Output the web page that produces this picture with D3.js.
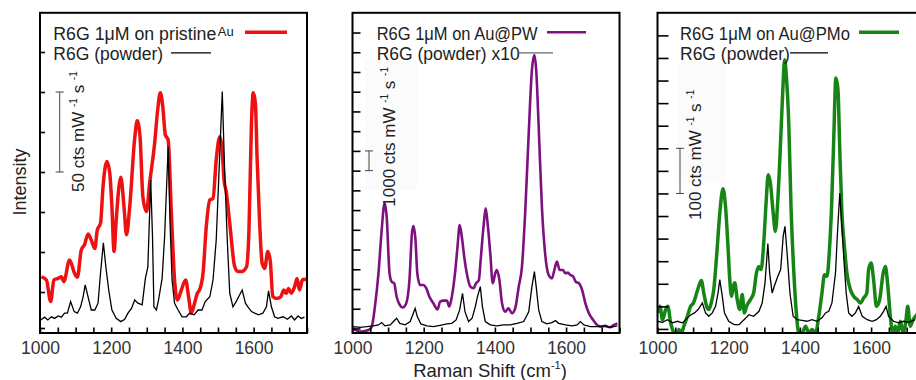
<!DOCTYPE html>
<html>
<head>
<meta charset="utf-8">
<script src="https://cdn.jsdelivr.net/npm/d3@7"></script>
<style>
body { margin: 0; background: #fff; }
text { font-family: "Liberation Sans", Arial, sans-serif; }
</style>
</head>
<body>
<div id="chartArea"></div>
<script>
// shared x axis
var xDomain = [1000, 1750];
var xLabels = [1000, 1200, 1400, 1600];
var xMinor = d3.range(1000, 1751, 50);

// left panel : pristine Au (red) + powder
var au_pristine = [[1004,1.38],[1018,1.30],[1030,0.76],[1039,1.30],[1051,1.34],[1060,1.38],[1067,1.26],[1083,1.80],[1097,1.47],[1105,1.37],[1116,2.05],[1125,2.18],[1135,2.45],[1144,2.30],[1154,2.09],[1161,2.55],[1170,2.72],[1177,3.63],[1188,4.26],[1196,3.97],[1202,3.13],[1208,2.01],[1214,2.80],[1227,3.87],[1236,3.13],[1243,2.43],[1252,3.13],[1266,4.84],[1273,5.28],[1281,4.88],[1289,3.38],[1299,3.01],[1308,3.72],[1322,4.72],[1331,5.59],[1338,5.98],[1345,5.63],[1352,4.93],[1360,4.80],[1369,2.97],[1378,1.30],[1386,0.80],[1397,1.05],[1409,1.30],[1418,0.84],[1425,0.47],[1433,0.68],[1442,0.97],[1448,1.05],[1458,1.47],[1467,2.63],[1477,3.30],[1486,3.34],[1495,4.30],[1505,4.88],[1511,4.63],[1517,3.80],[1523,3.51],[1533,2.72],[1547,1.63],[1556,1.51],[1567,1.51],[1580,1.63],[1587,2.55],[1594,5.22],[1599,5.98],[1605,5.72],[1610,4.30],[1617,2.72],[1624,1.72],[1631,1.59],[1640,2.01],[1647,1.76],[1654,0.88],[1664,0.84],[1676,0.88],[1685,1.05],[1692,0.97],[1698,1.09],[1706,0.97],[1715,1.13],[1722,1.34],[1729,1.05],[1737,1.30],[1743,1.32],[1750,1.30]];
var powder_a = [[1002,0.30],[1013,0.37],[1022,0.30],[1032,0.38],[1041,0.34],[1051,0.40],[1060,0.37],[1069,0.47],[1077,0.47],[1086,0.76],[1096,0.51],[1105,0.47],[1114,0.63],[1121,0.88],[1127,1.18],[1135,0.88],[1144,0.55],[1154,0.55],[1163,0.72],[1170,1.47],[1178,2.23],[1185,1.63],[1193,1.05],[1202,0.55],[1214,0.34],[1227,0.26],[1238,0.32],[1247,0.47],[1257,0.59],[1266,0.80],[1275,0.72],[1287,0.68],[1296,1.34],[1303,1.63],[1311,3.80],[1316,2.38],[1320,0.63],[1327,0.55],[1333,0.80],[1343,1.34],[1350,2.38],[1360,4.63],[1365,2.80],[1371,1.30],[1378,0.72],[1388,0.55],[1399,0.38],[1411,0.38],[1420,0.47],[1433,0.43],[1444,0.55],[1455,0.55],[1464,0.76],[1477,0.88],[1486,1.30],[1495,2.30],[1505,4.47],[1512,6.01],[1518,4.22],[1526,2.30],[1533,0.97],[1542,0.63],[1551,0.76],[1561,0.93],[1568,1.05],[1577,0.72],[1584,0.63],[1594,0.51],[1603,0.47],[1614,0.43],[1626,0.47],[1636,0.63],[1642,1.03],[1650,0.63],[1659,0.38],[1668,0.34],[1683,0.38],[1695,0.32],[1706,0.40],[1715,0.30],[1725,0.40],[1734,0.34],[1743,0.37]];

// middle panel : Au@PW (purple) + powder x10
var au_pw = [[1002,0.01],[1012,-0.11],[1026,-0.16],[1045,-0.08],[1054,0.09],[1063,1.11],[1073,2.80],[1082,4.99],[1090,6.34],[1096,5.67],[1104,2.80],[1110,2.37],[1117,2.29],[1124,1.61],[1133,1.19],[1141,1.06],[1151,1.28],[1160,2.46],[1167,4.82],[1171,5.19],[1177,4.48],[1182,2.80],[1190,2.20],[1199,2.20],[1207,2.04],[1216,1.61],[1227,1.28],[1239,0.97],[1246,1.36],[1256,1.41],[1265,1.41],[1272,1.11],[1279,1.61],[1288,2.80],[1295,4.15],[1301,5.24],[1307,4.65],[1315,3.47],[1321,2.80],[1331,2.12],[1340,2.04],[1347,2.29],[1355,2.46],[1360,3.47],[1368,5.16],[1374,6.09],[1379,5.41],[1387,3.81],[1394,2.29],[1401,2.80],[1405,2.96],[1412,2.54],[1420,1.28],[1429,0.85],[1438,1.02],[1448,0.77],[1457,1.02],[1467,2.12],[1476,3.13],[1485,5.84],[1495,9.89],[1504,13.10],[1511,13.86],[1516,13.10],[1523,10.23],[1532,6.17],[1541,3.81],[1551,2.71],[1560,2.54],[1567,2.96],[1574,3.39],[1582,2.96],[1591,2.96],[1598,2.80],[1605,2.83],[1612,2.71],[1620,2.63],[1627,2.37],[1636,2.29],[1645,1.95],[1654,1.28],[1664,0.77],[1676,0.43],[1687,0.18],[1698,0.09],[1710,0.13],[1723,0.06],[1734,0.18],[1744,0.26]];
var powder_b = [[1002,0.09],[1021,0.06],[1040,0.09],[1059,0.13],[1073,0.18],[1082,0.30],[1091,0.13],[1106,0.18],[1115,0.35],[1124,0.52],[1133,0.26],[1148,0.18],[1162,0.35],[1169,0.68],[1176,1.02],[1182,0.60],[1192,0.23],[1209,0.13],[1227,0.09],[1246,0.16],[1265,0.23],[1279,0.26],[1291,0.43],[1301,0.94],[1309,1.78],[1316,0.85],[1326,0.35],[1336,0.52],[1345,1.11],[1351,1.61],[1359,2.12],[1365,1.11],[1373,0.35],[1387,0.18],[1405,0.13],[1424,0.18],[1443,0.18],[1462,0.26],[1481,0.35],[1495,0.85],[1504,2.12],[1511,2.88],[1516,2.12],[1523,0.94],[1532,0.35],[1546,0.23],[1560,0.30],[1570,0.40],[1579,0.26],[1598,0.18],[1617,0.13],[1631,0.18],[1640,0.35],[1650,0.18],[1668,0.09],[1687,0.09],[1706,0.13],[1724,0.06],[1744,0.13]];

// right panel : Au@PMo (green) + powder
var au_pmo = [[1000,0.71],[1007,1.00],[1014,0.41],[1023,0.86],[1029,1.00],[1037,0.27],[1046,-0.18],[1054,-0.32],[1060,-0.03],[1067,-0.18],[1074,0.12],[1084,0.56],[1093,1.00],[1101,1.15],[1110,1.59],[1116,1.89],[1123,2.15],[1130,1.59],[1138,1.00],[1144,0.86],[1151,1.15],[1158,1.74],[1166,3.22],[1175,5.13],[1184,6.21],[1191,5.43],[1198,3.66],[1203,2.18],[1208,1.45],[1213,1.89],[1217,2.04],[1224,1.30],[1231,0.86],[1238,1.52],[1244,0.71],[1250,1.00],[1261,1.30],[1270,1.59],[1278,2.48],[1285,2.77],[1291,2.63],[1299,3.95],[1305,5.58],[1311,6.83],[1317,6.46],[1325,5.13],[1331,4.32],[1338,5.72],[1346,8.38],[1352,10.59],[1357,11.92],[1362,11.18],[1369,8.97],[1375,5.43],[1383,2.48],[1390,0.71],[1397,-0.18],[1406,-0.18],[1416,0.12],[1425,-0.18],[1434,-0.03],[1444,-0.18],[1453,0.56],[1462,1.59],[1469,2.40],[1476,2.33],[1483,3.51],[1489,5.43],[1495,8.38],[1501,11.11],[1507,10.59],[1512,7.94],[1518,5.13],[1525,3.66],[1532,2.48],[1542,1.74],[1551,1.45],[1561,1.30],[1570,1.15],[1579,1.37],[1588,1.59],[1593,2.63],[1600,2.92],[1607,2.18],[1615,1.00],[1624,1.30],[1634,2.48],[1640,2.77],[1647,1.89],[1654,0.56],[1661,-0.18],[1668,0.12],[1675,-0.18],[1682,0.34],[1690,-0.18],[1697,0.27],[1703,1.00],[1710,0.12],[1718,0.41],[1725,0.56],[1732,0.70]];
var powder_c = [[1000,0.34],[1014,0.29],[1028,0.41],[1042,0.27],[1056,0.34],[1070,0.27],[1084,0.49],[1094,0.63],[1104,0.71],[1114,0.86],[1126,1.15],[1135,0.71],[1144,0.56],[1154,0.71],[1163,1.00],[1170,1.59],[1175,2.18],[1182,1.45],[1188,0.71],[1200,0.34],[1215,0.19],[1229,0.19],[1243,0.41],[1257,0.63],[1270,0.56],[1285,0.78],[1294,1.15],[1302,2.04],[1310,3.78],[1315,2.48],[1322,1.59],[1328,1.89],[1338,2.33],[1346,2.63],[1353,4.10],[1358,4.54],[1364,3.36],[1372,1.59],[1381,0.56],[1392,0.41],[1406,0.38],[1420,0.34],[1434,0.41],[1448,0.34],[1462,0.49],[1472,0.71],[1481,0.78],[1490,1.15],[1500,2.48],[1506,4.40],[1512,6.02],[1516,4.99],[1523,3.22],[1530,1.59],[1537,0.71],[1546,0.56],[1556,0.71],[1565,1.00],[1575,0.56],[1589,0.41],[1603,0.34],[1615,0.41],[1626,0.56],[1635,0.78],[1642,1.00],[1649,0.56],[1663,0.34],[1677,0.27],[1691,0.34],[1705,0.29],[1724,0.41]];

// y axis : arbitrary units, one unit per tick
var yDomains = [[-0.025, 7.98], [-0.23, 16], [-0.18, 14]];
var yTicks = [[0.1, 1, 2, 3, 4, 5, 6, 7], d3.range(0, 16), d3.range(0, 14)];
var scaleBars = [[4, 6], [8, 9], [6, 8]];
var scaleCounts = ["50", "1000", "100"];
var sersNames = ["R6G 1\u03bcM on pristine", "R6G 1\u03bcM on Au@PW", "R6G 1\u03bcM on Au@PMo"];
var powderNames = ["R6G (powder)", "R6G (powder) x10", "R6G (powder)"];

var W = 916, H = 380,
	top_y = 12.8, bottom_y = 333,
	panel_w = 267;

// legend text widths follow the picture
var panels = [
	{ left: 40, tick: 5, color: "#ee1111", lw: 3.5, bar: 19.7, lab: [83.7, 192], tx: 53.3, tw: 163, leg: [245, 287, 171, 211], legColor: "#000", box: null },
	{ left: 352.5, tick: 8, color: "#7e1080", lw: 2.6, bar: 16.5, lab: [395, 206.7], tx: 376.7, tw: 161, leg: [547, 586, 517, 553], legColor: "#666", box: [365, 60, 52, 130] },
	{ left: 657.5, tick: 11, color: "#168516", lw: 3.5, bar: 22.5, lab: [700.7, 220], tx: 680, tw: 170, leg: [859, 899, 790, 828], legColor: "#000", box: [677, 62, 48, 121] }
];
var seriesA = [au_pristine, au_pw, au_pmo],
	seriesB = [powder_a, powder_b, powder_c];

var svg = d3.select("#chartArea").append("svg")
	.attr("width", W)
	.attr("height", H)
	.style("display", "block");

function supText(sel, parts, size, small) {
	// parts: [text, isSuperscript]
	var up = 0;
	parts.forEach(function(p) {
		var dy = 0;
		if (p[1] && !up) { dy = -size * 0.42; up = 1; }
		else if (!p[1] && up) { dy = size * 0.42; up = 0; }
		sel.append("tspan")
			.attr("dy", dy)
			.style("font-size", (p[1] ? small : size) + "px")
			.text(p[0]);
	});
}

panels.forEach(function(p, i) {
	var x = d3.scaleLinear().domain(xDomain).range([p.left, p.left + panel_w]);
	var y = d3.scaleLinear().domain(yDomains[i]).range([bottom_y, top_y]);
	var g = svg.append("g");

	g.append("clipPath").attr("id", "clip" + i)
		.append("rect")
		.attr("x", p.left).attr("y", top_y)
		.attr("width", panel_w).attr("height", bottom_y - top_y);

	if (p.box) {
		g.append("rect")
			.attr("x", p.box[0]).attr("y", p.box[1])
			.attr("width", p.box[2]).attr("height", p.box[3])
			.style("fill", "#fbfbfb");
	}

	var line = d3.line()
		.x(function(d) { return x(d[0]); })
		.y(function(d) { return y(d[1]); });

	g.append("path")
		.datum(seriesA[i])
		.attr("clip-path", "url(#clip" + i + ")")
		.attr("d", line.curve(d3.curveMonotoneX))
		.style("fill", "none")
		.style("stroke", p.color)
		.style("stroke-width", p.lw)
		.style("stroke-linejoin", "round");

	g.append("path")
		.datum(seriesB[i])
		.attr("clip-path", "url(#clip" + i + ")")
		.attr("d", line.curve(d3.curveLinear))
		.style("fill", "none")
		.style("stroke", "#000")
		.style("stroke-width", 1.3);

	// axes, ticks inside the frame
	var xa = g.append("g")
		.attr("transform", "translate(0," + bottom_y + ")")
		.call(d3.axisBottom(x)
			.tickValues(xMinor)
			.tickSizeInner(-5.5)
			.tickSizeOuter(0)
			.tickPadding(9)
			.tickFormat(function(d) { return xLabels.indexOf(d) >= 0 ? d : ""; }));
	xa.select(".domain").remove();
	xa.selectAll("line").style("stroke", "#000").style("stroke-width", 1.6);
	xa.selectAll("text").style("font-size", "17.5px").style("fill", "#333")
		.style("font-family", "Liberation Sans, Arial, sans-serif");

	var ya = g.append("g")
		.attr("transform", "translate(" + p.left + ",0)")
		.call(d3.axisLeft(y)
			.tickValues(yTicks[i])
			.tickSizeInner(-p.tick)
			.tickSizeOuter(0)
			.tickFormat(""));
	ya.select(".domain").remove();
	ya.selectAll("line").style("stroke", "#000").style("stroke-width", 1.6);

	g.append("rect")
		.attr("x", p.left).attr("y", top_y)
		.attr("width", panel_w).attr("height", bottom_y - top_y)
		.style("fill", "none")
		.style("stroke", "#000")
		.style("stroke-width", 2);

	// scale bar
	var bx = p.left + p.bar,
		b0 = y(scaleBars[i][0]),
		b1 = y(scaleBars[i][1]);
	var sb = g.append("g").style("stroke", "#444").style("stroke-width", 1);
	sb.append("line").attr("x1", bx).attr("x2", bx).attr("y1", b0).attr("y2", b1);
	sb.append("line").attr("x1", bx - 4).attr("x2", bx + 4).attr("y1", b0).attr("y2", b0);
	sb.append("line").attr("x1", bx - 4).attr("x2", bx + 4).attr("y1", b1).attr("y2", b1);

	var st = g.append("text")
		.attr("transform", "translate(" + p.lab[0] + "," + p.lab[1] + ") rotate(-90)")
		.style("fill", "#222");
	supText(st, [[scaleCounts[i] + " cts mW ", 0], ["-1", 1], [" s ", 0], ["-1", 1]], 17, 10);

	// legend
	g.append("text")
		.attr("x", p.tx)
		.attr("y", 39.5)
		.attr("textLength", p.tw)
		.attr("lengthAdjust", "spacingAndGlyphs")
		.style("font-size", "17.5px")
		.style("fill", "#222")
		.text(sersNames[i]);
	if (i == 0) {
		g.append("text")
			.attr("x", p.tx + p.tw + 1.5)
			.attr("y", 36)
			.style("font-size", "13px")
			.style("fill", "#222")
			.text("Au");
	}
	g.append("line")
		.attr("x1", p.leg[0]).attr("x2", p.leg[1])
		.attr("y1", 32.3).attr("y2", 32.3)
		.style("stroke", p.color)
		.style("stroke-width", p.lw);
	g.append("text")
		.attr("x", p.tx)
		.attr("y", 60)
		.style("font-size", "17.5px")
		.style("fill", "#222")
		.text(powderNames[i]);
	g.append("line")
		.attr("x1", p.leg[2]).attr("x2", p.leg[3])
		.attr("y1", 52.8).attr("y2", 52.8)
		.style("stroke", p.legColor)
		.style("stroke-width", 1.3);
});

// shared titles
svg.append("text")
	.attr("transform", "translate(26,182) rotate(-90)")
	.attr("text-anchor", "middle")
	.style("font-size", "18px")
	.style("fill", "#222")
	.text("Intensity");

var xt = svg.append("text")
	.attr("x", 490)
	.attr("y", 377)
	.attr("text-anchor", "middle")
	.style("fill", "#222");
supText(xt, [["Raman Shift (cm", 0], ["-1", 1], [")", 0]], 18.5, 11);
</script>
</body>
</html>
